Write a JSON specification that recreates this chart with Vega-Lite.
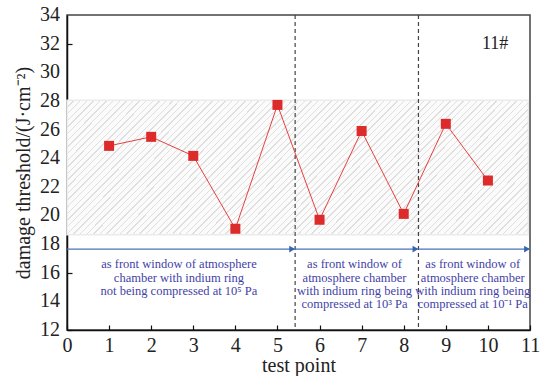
{
  "$schema": "https://vega.github.io/schema/vega-lite/v6.json",
  "width": 463,
  "height": 315,
  "autosize": {"type": "none"},
  "padding": {"left": 67, "top": 15, "right": 11, "bottom": 46},
  "background": "white",
  "config": {
    "font": "Liberation Serif",
    "view": {"stroke": "#444", "strokeWidth": 1.5},
    "axis": {
      "labelFont": "Liberation Serif",
      "titleFont": "Liberation Serif",
      "labelFontSize": 20,
      "titleFontSize": 20,
      "titleFontWeight": "normal",
      "labelColor": "#222",
      "titleColor": "#222",
      "domainColor": "#111",
      "domainWidth": 1.5,
      "tickColor": "#111",
      "tickWidth": 1.2,
      "tickSize": -5,
      "grid": false
    }
  },
  "datasets": {
    "band": [{"x0": 0, "x1": 10.96, "lo": 18.65, "hi": 28.05}],
    "yticks": [{"v": 12}, {"v": 14}, {"v": 16}, {"v": 18}, {"v": 20}, {"v": 22}, {"v": 24}, {"v": 26}, {"v": 28}, {"v": 30}, {"v": 32}, {"v": 34}],
    "dividers": [{"pos": 5.42}, {"pos": 8.35}],
    "arrows": [
      {"start": 0, "end": 5.42, "level": 17.65},
      {"start": 5.42, "end": 8.35, "level": 17.65},
      {"start": 8.35, "end": 11, "level": 17.65}
    ],
    "points": [
      {"test_point": 1, "threshold": 24.86},
      {"test_point": 2, "threshold": 25.49},
      {"test_point": 3, "threshold": 24.16},
      {"test_point": 4, "threshold": 19.07},
      {"test_point": 5, "threshold": 27.72},
      {"test_point": 6, "threshold": 19.7},
      {"test_point": 7, "threshold": 25.9},
      {"test_point": 8, "threshold": 20.11},
      {"test_point": 9, "threshold": 26.4},
      {"test_point": 10, "threshold": 22.44}
    ],
    "notes": [
      {"cx": 2.66, "cy": 17.0, "label": ["as front window of atmosphere", "chamber with indium ring", "not being compressed at 10⁵ Pa"]},
      {"cx": 6.83, "cy": 17.0, "label": ["as front window of", "atmosphere chamber", "with indium ring being", "compressed at 10³ Pa"]},
      {"cx": 9.64, "cy": 17.0, "label": ["as front window of", "atmosphere chamber", "with indium ring being", "compressed at 10⁻¹ Pa"]}
    ],
    "tag": [{"cx": 10.17, "cy": 32.0, "label": "11#"}]
  },
  "layer": [
    {
      "data": {"name": "band"},
      "mark": {"type": "rect", "stroke": "#ebebeb", "strokeWidth": 1.5,
        "fill": {"gradient": "linear", "x1": 0, "y1": 0, "x2": 1.322, "y2": 0.3834, "stops": [
{"offset":0,"color":"#dfdfdf"},{"offset":0.0021,"color":"#dfdfdf"},{"offset":0.0021,"color":"#fbfbfb"},{"offset":0.01,"color":"#fbfbfb"},
{"offset":0.01,"color":"#dfdfdf"},{"offset":0.0121,"color":"#dfdfdf"},{"offset":0.0121,"color":"#fbfbfb"},{"offset":0.02,"color":"#fbfbfb"},
{"offset":0.02,"color":"#dfdfdf"},{"offset":0.0221,"color":"#dfdfdf"},{"offset":0.0221,"color":"#fbfbfb"},{"offset":0.03,"color":"#fbfbfb"},
{"offset":0.03,"color":"#dfdfdf"},{"offset":0.0321,"color":"#dfdfdf"},{"offset":0.0321,"color":"#fbfbfb"},{"offset":0.04,"color":"#fbfbfb"},
{"offset":0.04,"color":"#dfdfdf"},{"offset":0.0421,"color":"#dfdfdf"},{"offset":0.0421,"color":"#fbfbfb"},{"offset":0.05,"color":"#fbfbfb"},
{"offset":0.05,"color":"#dfdfdf"},{"offset":0.0521,"color":"#dfdfdf"},{"offset":0.0521,"color":"#fbfbfb"},{"offset":0.06,"color":"#fbfbfb"},
{"offset":0.06,"color":"#dfdfdf"},{"offset":0.0621,"color":"#dfdfdf"},{"offset":0.0621,"color":"#fbfbfb"},{"offset":0.07,"color":"#fbfbfb"},
{"offset":0.07,"color":"#dfdfdf"},{"offset":0.0721,"color":"#dfdfdf"},{"offset":0.0721,"color":"#fbfbfb"},{"offset":0.08,"color":"#fbfbfb"},
{"offset":0.08,"color":"#dfdfdf"},{"offset":0.0821,"color":"#dfdfdf"},{"offset":0.0821,"color":"#fbfbfb"},{"offset":0.09,"color":"#fbfbfb"},
{"offset":0.09,"color":"#dfdfdf"},{"offset":0.0921,"color":"#dfdfdf"},{"offset":0.0921,"color":"#fbfbfb"},{"offset":0.10,"color":"#fbfbfb"},
{"offset":0.10,"color":"#dfdfdf"},{"offset":0.1021,"color":"#dfdfdf"},{"offset":0.1021,"color":"#fbfbfb"},{"offset":0.11,"color":"#fbfbfb"},
{"offset":0.11,"color":"#dfdfdf"},{"offset":0.1121,"color":"#dfdfdf"},{"offset":0.1121,"color":"#fbfbfb"},{"offset":0.12,"color":"#fbfbfb"},
{"offset":0.12,"color":"#dfdfdf"},{"offset":0.1221,"color":"#dfdfdf"},{"offset":0.1221,"color":"#fbfbfb"},{"offset":0.13,"color":"#fbfbfb"},
{"offset":0.13,"color":"#dfdfdf"},{"offset":0.1321,"color":"#dfdfdf"},{"offset":0.1321,"color":"#fbfbfb"},{"offset":0.14,"color":"#fbfbfb"},
{"offset":0.14,"color":"#dfdfdf"},{"offset":0.1421,"color":"#dfdfdf"},{"offset":0.1421,"color":"#fbfbfb"},{"offset":0.15,"color":"#fbfbfb"},
{"offset":0.15,"color":"#dfdfdf"},{"offset":0.1521,"color":"#dfdfdf"},{"offset":0.1521,"color":"#fbfbfb"},{"offset":0.16,"color":"#fbfbfb"},
{"offset":0.16,"color":"#dfdfdf"},{"offset":0.1621,"color":"#dfdfdf"},{"offset":0.1621,"color":"#fbfbfb"},{"offset":0.17,"color":"#fbfbfb"},
{"offset":0.17,"color":"#dfdfdf"},{"offset":0.1721,"color":"#dfdfdf"},{"offset":0.1721,"color":"#fbfbfb"},{"offset":0.18,"color":"#fbfbfb"},
{"offset":0.18,"color":"#dfdfdf"},{"offset":0.1821,"color":"#dfdfdf"},{"offset":0.1821,"color":"#fbfbfb"},{"offset":0.19,"color":"#fbfbfb"},
{"offset":0.19,"color":"#dfdfdf"},{"offset":0.1921,"color":"#dfdfdf"},{"offset":0.1921,"color":"#fbfbfb"},{"offset":0.20,"color":"#fbfbfb"},
{"offset":0.20,"color":"#dfdfdf"},{"offset":0.2021,"color":"#dfdfdf"},{"offset":0.2021,"color":"#fbfbfb"},{"offset":0.21,"color":"#fbfbfb"},
{"offset":0.21,"color":"#dfdfdf"},{"offset":0.2121,"color":"#dfdfdf"},{"offset":0.2121,"color":"#fbfbfb"},{"offset":0.22,"color":"#fbfbfb"},
{"offset":0.22,"color":"#dfdfdf"},{"offset":0.2221,"color":"#dfdfdf"},{"offset":0.2221,"color":"#fbfbfb"},{"offset":0.23,"color":"#fbfbfb"},
{"offset":0.23,"color":"#dfdfdf"},{"offset":0.2321,"color":"#dfdfdf"},{"offset":0.2321,"color":"#fbfbfb"},{"offset":0.24,"color":"#fbfbfb"},
{"offset":0.24,"color":"#dfdfdf"},{"offset":0.2421,"color":"#dfdfdf"},{"offset":0.2421,"color":"#fbfbfb"},{"offset":0.25,"color":"#fbfbfb"},
{"offset":0.25,"color":"#dfdfdf"},{"offset":0.2521,"color":"#dfdfdf"},{"offset":0.2521,"color":"#fbfbfb"},{"offset":0.26,"color":"#fbfbfb"},
{"offset":0.26,"color":"#dfdfdf"},{"offset":0.2621,"color":"#dfdfdf"},{"offset":0.2621,"color":"#fbfbfb"},{"offset":0.27,"color":"#fbfbfb"},
{"offset":0.27,"color":"#dfdfdf"},{"offset":0.2721,"color":"#dfdfdf"},{"offset":0.2721,"color":"#fbfbfb"},{"offset":0.28,"color":"#fbfbfb"},
{"offset":0.28,"color":"#dfdfdf"},{"offset":0.2821,"color":"#dfdfdf"},{"offset":0.2821,"color":"#fbfbfb"},{"offset":0.29,"color":"#fbfbfb"},
{"offset":0.29,"color":"#dfdfdf"},{"offset":0.2921,"color":"#dfdfdf"},{"offset":0.2921,"color":"#fbfbfb"},{"offset":0.30,"color":"#fbfbfb"},
{"offset":0.30,"color":"#dfdfdf"},{"offset":0.3021,"color":"#dfdfdf"},{"offset":0.3021,"color":"#fbfbfb"},{"offset":0.31,"color":"#fbfbfb"},
{"offset":0.31,"color":"#dfdfdf"},{"offset":0.3121,"color":"#dfdfdf"},{"offset":0.3121,"color":"#fbfbfb"},{"offset":0.32,"color":"#fbfbfb"},
{"offset":0.32,"color":"#dfdfdf"},{"offset":0.3221,"color":"#dfdfdf"},{"offset":0.3221,"color":"#fbfbfb"},{"offset":0.33,"color":"#fbfbfb"},
{"offset":0.33,"color":"#dfdfdf"},{"offset":0.3321,"color":"#dfdfdf"},{"offset":0.3321,"color":"#fbfbfb"},{"offset":0.34,"color":"#fbfbfb"},
{"offset":0.34,"color":"#dfdfdf"},{"offset":0.3421,"color":"#dfdfdf"},{"offset":0.3421,"color":"#fbfbfb"},{"offset":0.35,"color":"#fbfbfb"},
{"offset":0.35,"color":"#dfdfdf"},{"offset":0.3521,"color":"#dfdfdf"},{"offset":0.3521,"color":"#fbfbfb"},{"offset":0.36,"color":"#fbfbfb"},
{"offset":0.36,"color":"#dfdfdf"},{"offset":0.3621,"color":"#dfdfdf"},{"offset":0.3621,"color":"#fbfbfb"},{"offset":0.37,"color":"#fbfbfb"},
{"offset":0.37,"color":"#dfdfdf"},{"offset":0.3721,"color":"#dfdfdf"},{"offset":0.3721,"color":"#fbfbfb"},{"offset":0.38,"color":"#fbfbfb"},
{"offset":0.38,"color":"#dfdfdf"},{"offset":0.3821,"color":"#dfdfdf"},{"offset":0.3821,"color":"#fbfbfb"},{"offset":0.39,"color":"#fbfbfb"},
{"offset":0.39,"color":"#dfdfdf"},{"offset":0.3921,"color":"#dfdfdf"},{"offset":0.3921,"color":"#fbfbfb"},{"offset":0.40,"color":"#fbfbfb"},
{"offset":0.40,"color":"#dfdfdf"},{"offset":0.4021,"color":"#dfdfdf"},{"offset":0.4021,"color":"#fbfbfb"},{"offset":0.41,"color":"#fbfbfb"},
{"offset":0.41,"color":"#dfdfdf"},{"offset":0.4121,"color":"#dfdfdf"},{"offset":0.4121,"color":"#fbfbfb"},{"offset":0.42,"color":"#fbfbfb"},
{"offset":0.42,"color":"#dfdfdf"},{"offset":0.4221,"color":"#dfdfdf"},{"offset":0.4221,"color":"#fbfbfb"},{"offset":0.43,"color":"#fbfbfb"},
{"offset":0.43,"color":"#dfdfdf"},{"offset":0.4321,"color":"#dfdfdf"},{"offset":0.4321,"color":"#fbfbfb"},{"offset":0.44,"color":"#fbfbfb"},
{"offset":0.44,"color":"#dfdfdf"},{"offset":0.4421,"color":"#dfdfdf"},{"offset":0.4421,"color":"#fbfbfb"},{"offset":0.45,"color":"#fbfbfb"},
{"offset":0.45,"color":"#dfdfdf"},{"offset":0.4521,"color":"#dfdfdf"},{"offset":0.4521,"color":"#fbfbfb"},{"offset":0.46,"color":"#fbfbfb"},
{"offset":0.46,"color":"#dfdfdf"},{"offset":0.4621,"color":"#dfdfdf"},{"offset":0.4621,"color":"#fbfbfb"},{"offset":0.47,"color":"#fbfbfb"},
{"offset":0.47,"color":"#dfdfdf"},{"offset":0.4721,"color":"#dfdfdf"},{"offset":0.4721,"color":"#fbfbfb"},{"offset":0.48,"color":"#fbfbfb"},
{"offset":0.48,"color":"#dfdfdf"},{"offset":0.4821,"color":"#dfdfdf"},{"offset":0.4821,"color":"#fbfbfb"},{"offset":0.49,"color":"#fbfbfb"},
{"offset":0.49,"color":"#dfdfdf"},{"offset":0.4921,"color":"#dfdfdf"},{"offset":0.4921,"color":"#fbfbfb"},{"offset":0.50,"color":"#fbfbfb"},
{"offset":0.50,"color":"#dfdfdf"},{"offset":0.5021,"color":"#dfdfdf"},{"offset":0.5021,"color":"#fbfbfb"},{"offset":0.51,"color":"#fbfbfb"},
{"offset":0.51,"color":"#dfdfdf"},{"offset":0.5121,"color":"#dfdfdf"},{"offset":0.5121,"color":"#fbfbfb"},{"offset":0.52,"color":"#fbfbfb"},
{"offset":0.52,"color":"#dfdfdf"},{"offset":0.5221,"color":"#dfdfdf"},{"offset":0.5221,"color":"#fbfbfb"},{"offset":0.53,"color":"#fbfbfb"},
{"offset":0.53,"color":"#dfdfdf"},{"offset":0.5321,"color":"#dfdfdf"},{"offset":0.5321,"color":"#fbfbfb"},{"offset":0.54,"color":"#fbfbfb"},
{"offset":0.54,"color":"#dfdfdf"},{"offset":0.5421,"color":"#dfdfdf"},{"offset":0.5421,"color":"#fbfbfb"},{"offset":0.55,"color":"#fbfbfb"},
{"offset":0.55,"color":"#dfdfdf"},{"offset":0.5521,"color":"#dfdfdf"},{"offset":0.5521,"color":"#fbfbfb"},{"offset":0.56,"color":"#fbfbfb"},
{"offset":0.56,"color":"#dfdfdf"},{"offset":0.5621,"color":"#dfdfdf"},{"offset":0.5621,"color":"#fbfbfb"},{"offset":0.57,"color":"#fbfbfb"},
{"offset":0.57,"color":"#dfdfdf"},{"offset":0.5721,"color":"#dfdfdf"},{"offset":0.5721,"color":"#fbfbfb"},{"offset":0.58,"color":"#fbfbfb"},
{"offset":0.58,"color":"#dfdfdf"},{"offset":0.5821,"color":"#dfdfdf"},{"offset":0.5821,"color":"#fbfbfb"},{"offset":0.59,"color":"#fbfbfb"},
{"offset":0.59,"color":"#dfdfdf"},{"offset":0.5921,"color":"#dfdfdf"},{"offset":0.5921,"color":"#fbfbfb"},{"offset":0.60,"color":"#fbfbfb"},
{"offset":0.60,"color":"#dfdfdf"},{"offset":0.6021,"color":"#dfdfdf"},{"offset":0.6021,"color":"#fbfbfb"},{"offset":0.61,"color":"#fbfbfb"},
{"offset":0.61,"color":"#dfdfdf"},{"offset":0.6121,"color":"#dfdfdf"},{"offset":0.6121,"color":"#fbfbfb"},{"offset":0.62,"color":"#fbfbfb"},
{"offset":0.62,"color":"#dfdfdf"},{"offset":0.6221,"color":"#dfdfdf"},{"offset":0.6221,"color":"#fbfbfb"},{"offset":0.63,"color":"#fbfbfb"},
{"offset":0.63,"color":"#dfdfdf"},{"offset":0.6321,"color":"#dfdfdf"},{"offset":0.6321,"color":"#fbfbfb"},{"offset":0.64,"color":"#fbfbfb"},
{"offset":0.64,"color":"#dfdfdf"},{"offset":0.6421,"color":"#dfdfdf"},{"offset":0.6421,"color":"#fbfbfb"},{"offset":0.65,"color":"#fbfbfb"},
{"offset":0.65,"color":"#dfdfdf"},{"offset":0.6521,"color":"#dfdfdf"},{"offset":0.6521,"color":"#fbfbfb"},{"offset":0.66,"color":"#fbfbfb"},
{"offset":0.66,"color":"#dfdfdf"},{"offset":0.6621,"color":"#dfdfdf"},{"offset":0.6621,"color":"#fbfbfb"},{"offset":0.67,"color":"#fbfbfb"},
{"offset":0.67,"color":"#dfdfdf"},{"offset":0.6721,"color":"#dfdfdf"},{"offset":0.6721,"color":"#fbfbfb"},{"offset":0.68,"color":"#fbfbfb"},
{"offset":0.68,"color":"#dfdfdf"},{"offset":0.6821,"color":"#dfdfdf"},{"offset":0.6821,"color":"#fbfbfb"},{"offset":0.69,"color":"#fbfbfb"},
{"offset":0.69,"color":"#dfdfdf"},{"offset":0.6921,"color":"#dfdfdf"},{"offset":0.6921,"color":"#fbfbfb"},{"offset":0.70,"color":"#fbfbfb"},
{"offset":0.70,"color":"#dfdfdf"},{"offset":0.7021,"color":"#dfdfdf"},{"offset":0.7021,"color":"#fbfbfb"},{"offset":0.71,"color":"#fbfbfb"},
{"offset":0.71,"color":"#dfdfdf"},{"offset":0.7121,"color":"#dfdfdf"},{"offset":0.7121,"color":"#fbfbfb"},{"offset":0.72,"color":"#fbfbfb"},
{"offset":0.72,"color":"#dfdfdf"},{"offset":0.7221,"color":"#dfdfdf"},{"offset":0.7221,"color":"#fbfbfb"},{"offset":0.73,"color":"#fbfbfb"},
{"offset":0.73,"color":"#dfdfdf"},{"offset":0.7321,"color":"#dfdfdf"},{"offset":0.7321,"color":"#fbfbfb"},{"offset":0.74,"color":"#fbfbfb"},
{"offset":0.74,"color":"#dfdfdf"},{"offset":0.7421,"color":"#dfdfdf"},{"offset":0.7421,"color":"#fbfbfb"},{"offset":0.75,"color":"#fbfbfb"},
{"offset":0.75,"color":"#dfdfdf"},{"offset":0.7521,"color":"#dfdfdf"},{"offset":0.7521,"color":"#fbfbfb"},{"offset":0.76,"color":"#fbfbfb"},
{"offset":0.76,"color":"#dfdfdf"},{"offset":0.7621,"color":"#dfdfdf"},{"offset":0.7621,"color":"#fbfbfb"},{"offset":0.77,"color":"#fbfbfb"},
{"offset":0.77,"color":"#dfdfdf"},{"offset":0.7721,"color":"#dfdfdf"},{"offset":0.7721,"color":"#fbfbfb"},{"offset":0.78,"color":"#fbfbfb"},
{"offset":0.78,"color":"#dfdfdf"},{"offset":0.7821,"color":"#dfdfdf"},{"offset":0.7821,"color":"#fbfbfb"},{"offset":0.79,"color":"#fbfbfb"},
{"offset":0.79,"color":"#dfdfdf"},{"offset":0.7921,"color":"#dfdfdf"},{"offset":0.7921,"color":"#fbfbfb"},{"offset":0.80,"color":"#fbfbfb"},
{"offset":0.80,"color":"#dfdfdf"},{"offset":0.8021,"color":"#dfdfdf"},{"offset":0.8021,"color":"#fbfbfb"},{"offset":0.81,"color":"#fbfbfb"},
{"offset":0.81,"color":"#dfdfdf"},{"offset":0.8121,"color":"#dfdfdf"},{"offset":0.8121,"color":"#fbfbfb"},{"offset":0.82,"color":"#fbfbfb"},
{"offset":0.82,"color":"#dfdfdf"},{"offset":0.8221,"color":"#dfdfdf"},{"offset":0.8221,"color":"#fbfbfb"},{"offset":0.83,"color":"#fbfbfb"},
{"offset":0.83,"color":"#dfdfdf"},{"offset":0.8321,"color":"#dfdfdf"},{"offset":0.8321,"color":"#fbfbfb"},{"offset":0.84,"color":"#fbfbfb"},
{"offset":0.84,"color":"#dfdfdf"},{"offset":0.8421,"color":"#dfdfdf"},{"offset":0.8421,"color":"#fbfbfb"},{"offset":0.85,"color":"#fbfbfb"},
{"offset":0.85,"color":"#dfdfdf"},{"offset":0.8521,"color":"#dfdfdf"},{"offset":0.8521,"color":"#fbfbfb"},{"offset":0.86,"color":"#fbfbfb"},
{"offset":0.86,"color":"#dfdfdf"},{"offset":0.8621,"color":"#dfdfdf"},{"offset":0.8621,"color":"#fbfbfb"},{"offset":0.87,"color":"#fbfbfb"},
{"offset":0.87,"color":"#dfdfdf"},{"offset":0.8721,"color":"#dfdfdf"},{"offset":0.8721,"color":"#fbfbfb"},{"offset":0.88,"color":"#fbfbfb"},
{"offset":0.88,"color":"#dfdfdf"},{"offset":0.8821,"color":"#dfdfdf"},{"offset":0.8821,"color":"#fbfbfb"},{"offset":0.89,"color":"#fbfbfb"},
{"offset":0.89,"color":"#dfdfdf"},{"offset":0.8921,"color":"#dfdfdf"},{"offset":0.8921,"color":"#fbfbfb"},{"offset":1,"color":"#fbfbfb"}
        ]}},
      "encoding": {
        "x": {"field": "x0", "type": "quantitative", "scale": {"domain": [0, 11], "nice": false, "zero": false},
              "axis": {"title": "test point", "values": [0,1,2,3,4,5,6,7,8,9,10,11], "format": "d", "labelPadding": 10, "titlePadding": 0, "labelFlush": false, "labelOverlap": false}},
        "x2": {"field": "x1"},
        "y": {"field": "lo", "type": "quantitative", "scale": {"domain": [12, 34], "nice": false, "zero": false},
              "axis": {"title": "damage threshold/(J·cm⁻²)", "values": [12,14,16,18,20,22,24,26,28,30,32,34], "tickCount": 11, "labels": false, "titlePadding": 33}},
        "y2": {"field": "hi"}
      }
    },
    {
      "data": {"name": "yticks"},
      "mark": {"type": "text", "font": "Liberation Serif", "fontSize": 20, "color": "#222", "align": "right", "baseline": "middle", "xOffset": -7},
      "encoding": {
        "x": {"datum": 0, "type": "quantitative"},
        "y": {"field": "v", "type": "quantitative"},
        "text": {"field": "v", "type": "quantitative", "format": "d"}
      }
    },
    {
      "data": {"name": "dividers"},
      "mark": {"type": "rule", "color": "#444", "strokeWidth": 1.2, "strokeDash": [4, 3]},
      "encoding": {"x": {"field": "pos", "type": "quantitative"}}
    },
    {
      "data": {"name": "arrows"},
      "mark": {"type": "rule", "color": "#4a72b8", "strokeWidth": 1.3},
      "encoding": {
        "x": {"field": "start", "type": "quantitative"},
        "x2": {"field": "end"},
        "y": {"field": "level", "type": "quantitative"}
      }
    },
    {
      "data": {"name": "arrows"},
      "mark": {"type": "point", "shape": "triangle-right", "filled": true, "color": "#3a64b0", "size": 45, "opacity": 1, "xOffset": -3},
      "encoding": {
        "x": {"field": "end", "type": "quantitative"},
        "y": {"field": "level", "type": "quantitative"}
      }
    },
    {
      "data": {"name": "points"},
      "mark": {"type": "line", "color": "#e8403c", "strokeWidth": 1},
      "encoding": {
        "x": {"field": "test_point", "type": "quantitative"},
        "y": {"field": "threshold", "type": "quantitative"}
      }
    },
    {
      "data": {"name": "points"},
      "mark": {"type": "point", "shape": "square", "filled": true, "color": "#dd2a2a", "size": 100, "opacity": 1},
      "encoding": {
        "x": {"field": "test_point", "type": "quantitative"},
        "y": {"field": "threshold", "type": "quantitative"}
      }
    },
    {
      "data": {"name": "notes"},
      "mark": {"type": "text", "font": "Liberation Serif", "fontSize": 12.5, "color": "#3f3fa8", "align": "center", "baseline": "top", "lineHeight": 13.2},
      "encoding": {
        "x": {"field": "cx", "type": "quantitative"},
        "y": {"field": "cy", "type": "quantitative"},
        "text": {"field": "label"}
      }
    },
    {
      "data": {"name": "tag"},
      "mark": {"type": "text", "font": "Liberation Serif", "fontSize": 18, "color": "#222", "align": "center", "baseline": "middle"},
      "encoding": {
        "x": {"field": "cx", "type": "quantitative"},
        "y": {"field": "cy", "type": "quantitative"},
        "text": {"field": "label"}
      }
    }
  ]
}
